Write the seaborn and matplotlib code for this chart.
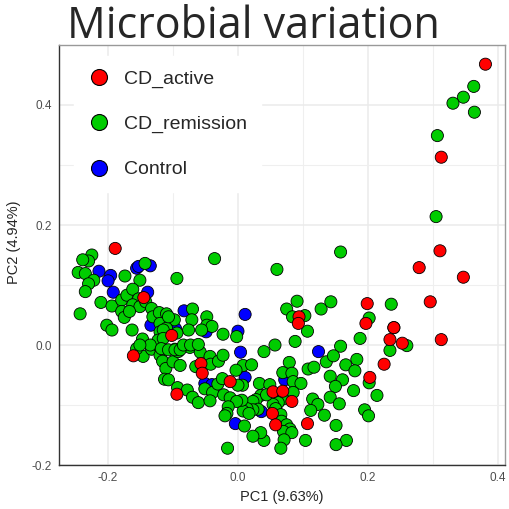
import numpy as np
import pandas as pd
import matplotlib
matplotlib.use("Agg")
import matplotlib.pyplot as plt
from matplotlib.lines import Line2D
import seaborn as sns

groups = ["CD_active", "CD_remission", "Control"]
colors = ["#FF0000", "#00CC00", "#0000FF"]

active_pc1 = [0.381, 0.313, 0.311, 0.279, 0.347, 0.296, 0.199, 0.197, 0.240, 0.234,
              0.253, 0.313, 0.094, 0.093, 0.225, 0.203, 0.107, 0.054, 0.069, 0.083,
              0.053, 0.058, -0.161, -0.057, -0.055, -0.094, -0.012, -0.189, -0.145, -0.102]
active_pc2 = [0.468, 0.313, 0.157, 0.129, 0.113, 0.072, 0.069, 0.036, 0.029, 0.009,
              0.003, 0.009, 0.047, 0.036, -0.032, -0.054, -0.131, -0.078, -0.077, -0.094,
              -0.114, -0.133, -0.018, -0.031, -0.047, -0.082, -0.061, 0.161, 0.079, 0.016]

control_pc1 = [-0.214, -0.196, -0.200, -0.156, -0.153, -0.135, -0.192, -0.139, -0.083, -0.049,
               0.000, -0.134, -0.096, 0.011, 0.004, 0.124, 0.072, 0.065, 0.036, 0.011,
               -0.051, -0.040, -0.004]
control_pc2 = [0.123, 0.116, 0.107, 0.128, 0.131, 0.132, 0.088, 0.088, 0.057, 0.022,
               0.023, 0.033, 0.027, 0.051, -0.012, -0.011, -0.058, -0.086, -0.111, -0.054,
               -0.064, -0.066, -0.131]

remission_pc1 = [
    0.363, 0.347, 0.331, 0.364, 0.307, 0.305, 0.158, 0.060, -0.036,
    0.236, 0.202, 0.240, 0.188, 0.260, 0.234, 0.158, 0.183,
    0.091, 0.075, 0.084, 0.103, 0.107, 0.128, 0.143, 0.057, 0.088,
    0.040, 0.136, 0.147, 0.166, 0.180, 0.108, 0.117, 0.079, 0.069, 0.083,
    0.085, 0.097, 0.142, 0.161, 0.150, 0.178, 0.202, 0.214, 0.142, 0.156,
    0.115, 0.123, 0.112, 0.133, 0.195, 0.201, 0.151, 0.167, 0.151, 0.104,
    0.085, 0.069, 0.062, 0.054, 0.058, 0.066, 0.067, 0.075, 0.080, 0.070,
    0.083, 0.071, 0.066, 0.040, 0.035, 0.023, 0.010,
    0.033, 0.035, 0.028, 0.023, 0.031, 0.023, 0.014, 0.008, 0.017, 0.049,
    0.006, 0.007, 0.008, 0.021, 0.044,
    -0.146, -0.156, -0.133, -0.121, -0.120, -0.116, -0.111, -0.100, -0.089, -0.097,
    -0.092, -0.074, -0.058, -0.065, -0.043, -0.042, -0.030, -0.023, -0.003, -0.113,
    -0.107, -0.093, -0.078, -0.070, -0.061, -0.051, -0.039, -0.043, -0.031, -0.024,
    -0.022, -0.012, -0.002, -0.015, -0.017, -0.020, -0.016, 0.000,
    -0.225, -0.230, -0.239, -0.246, -0.235, -0.222, -0.230, -0.235, -0.174, -0.143,
    -0.151, -0.094, -0.211, -0.243, -0.194, -0.179, -0.171, -0.162, -0.153, -0.162,
    -0.151, -0.142, -0.179, -0.175, -0.167, -0.133, -0.131, -0.121, -0.110, -0.070,
    -0.071, -0.098, -0.048, -0.048, -0.040, -0.023, -0.002, -0.120, -0.120, -0.110,
    -0.202, -0.194, -0.163, -0.147, -0.076, -0.123,
    -0.056, -0.094, -0.107, -0.115, -0.115, -0.135, -0.151, -0.118, -0.107, -0.097,
    -0.089, -0.084, -0.073, -0.061]
remission_pc2 = [
    0.431, 0.413, 0.403, 0.388, 0.349, 0.214, 0.155, 0.126, 0.144,
    0.068, 0.045, 0.029, 0.011, -0.001, -0.009, -0.002, -0.024,
    0.073, 0.060, 0.047, 0.049, 0.023, 0.060, 0.072, 0.000, 0.006,
    -0.011, -0.028, -0.018, -0.033, -0.043, -0.040, -0.037, -0.029, -0.046, -0.047,
    -0.061, -0.064, -0.052, -0.058, -0.069, -0.076, -0.063, -0.084, -0.087, -0.098,
    -0.090, -0.099, -0.109, -0.117, -0.108, -0.118, -0.134, -0.159, -0.166, -0.159,
    -0.079, -0.090, -0.096, -0.099, -0.106, -0.116, -0.127, -0.133, -0.140, -0.144,
    -0.146, -0.158, -0.172, -0.159, -0.146, -0.152, -0.135,
    -0.064, -0.084, -0.091, -0.094, -0.107, -0.108, -0.106, -0.110, -0.114, -0.066,
    -0.092, -0.067, -0.034, -0.033, -0.083,
    -0.019, -0.006, -0.007, -0.003, -0.017, -0.027, -0.039, -0.028, -0.034, -0.007,
    -0.011, -0.004, -0.012, -0.036, -0.019, -0.032, -0.027, -0.017, -0.042, -0.057,
    -0.058, -0.071, -0.075, -0.087, -0.096, -0.073, -0.079, -0.093, -0.065, -0.056,
    -0.083, -0.088, -0.094, -0.103, -0.114, -0.118, -0.172, -0.067,
    0.150, 0.140, 0.142, 0.121, 0.119, 0.108, 0.102, 0.089, 0.115, 0.136,
    0.108, 0.111, 0.071, 0.052, 0.065, 0.075, 0.083, 0.093, 0.077, 0.067,
    0.064, 0.072, 0.056, 0.046, 0.056, 0.061, 0.047, 0.054, 0.052, 0.060,
    0.042, 0.042, 0.047, 0.033, 0.031, 0.018, 0.014, 0.036, 0.022, 0.028,
    0.033, 0.025, 0.025, 0.010, 0.025, 0.008,
    0.025, 0.020, 0.047, 0.025, 0.011, 0.000, 0.000, -0.006, -0.008, -0.008,
    -0.008, 0.000, 0.000, 0.001]

xlabel = "PC1 (9.63%)"
ylabel = "PC2 (4.94%)"
title = "Microbial variation"
xticks = [-0.2, 0.0, 0.2, 0.4]
yticks = [-0.2, 0.0, 0.2, 0.4]

df = pd.concat([
    pd.DataFrame({"PC1": control_pc1, "PC2": control_pc2, "group": "Control"}),
    pd.DataFrame({"PC1": remission_pc1, "PC2": remission_pc2, "group": "CD_remission"}),
    pd.DataFrame({"PC1": active_pc1, "PC2": active_pc2, "group": "CD_active"}),
], ignore_index=True)

sns.set_style("white")
plt.rcParams["font.family"] = ["Liberation Sans", "DejaVu Sans"]

fig = plt.figure(figsize=(5.09, 5.09), dpi=100)
ax = fig.add_axes([0.1153, 0.0864, 0.8767, 0.8252])

palette = dict(zip(groups, colors))
sns.scatterplot(data=df, x="PC1", y="PC2", hue="group", palette=palette,
                s=76, edgecolor="black", linewidth=0.6, legend=False, ax=ax, zorder=3)

ax.set_xlim(-0.276, 0.411)
ax.set_ylim(-0.2, 0.5)
ax.set_xticks(xticks)
ax.set_yticks(yticks)
ax.set_xticks([-0.1, 0.1, 0.3], minor=True)
ax.set_yticks([-0.1, 0.1, 0.3], minor=True)
ax.grid(True, which="major", color="#EBEBEB", linewidth=1.1, zorder=0)
ax.grid(True, which="minor", color="#EFEFEF", linewidth=0.8, zorder=0)
ax.set_axisbelow(True)
ax.tick_params(which="minor", length=0)
ax.tick_params(which="major", length=3, width=0.8, color="#333333",
               labelsize=8.5, labelcolor="#4D4D4D", direction="out", pad=2)
ax.set_xticklabels(["-0.2", "0.0", "0.2", "0.4"])
ax.set_yticklabels(["-0.2", "0.0", "0.2", "0.4"])
for side in ["left", "bottom"]:
    ax.spines[side].set_color("#333333")
    ax.spines[side].set_linewidth(1.0)
for side in ["top", "right"]:
    ax.spines[side].set_color("#999999")
    ax.spines[side].set_linewidth(1.0)
    ax.spines[side].set_visible(True)

ax.set_xlabel(xlabel, fontsize=10.5, labelpad=4)
ax.set_ylabel(ylabel, fontsize=10.5, labelpad=6)
ax.yaxis.set_label_coords(-0.085, 0.53)

handles = [Line2D([0], [0], marker="o", linestyle="", markersize=11.5,
                  markerfacecolor=c, markeredgecolor="black", markeredgewidth=0.8)
           for c in colors]
leg = ax.legend(handles, groups, loc="upper left", bbox_to_anchor=(0.034, 0.973),
                frameon=True, fontsize=14, labelspacing=1.42, handletextpad=0.7,
                borderpad=0.7, handlelength=1.2, borderaxespad=0.0)
leg.get_frame().set_facecolor("white")
leg.get_frame().set_edgecolor("white")
leg.get_frame().set_alpha(1.0)
leg.set_zorder(5)

fig.text(0.497, 0.948, title, ha="center", va="center", fontsize=31,
         family=["Open Sans", "DejaVu Sans"])

fig.savefig("out.png", dpi=100)
